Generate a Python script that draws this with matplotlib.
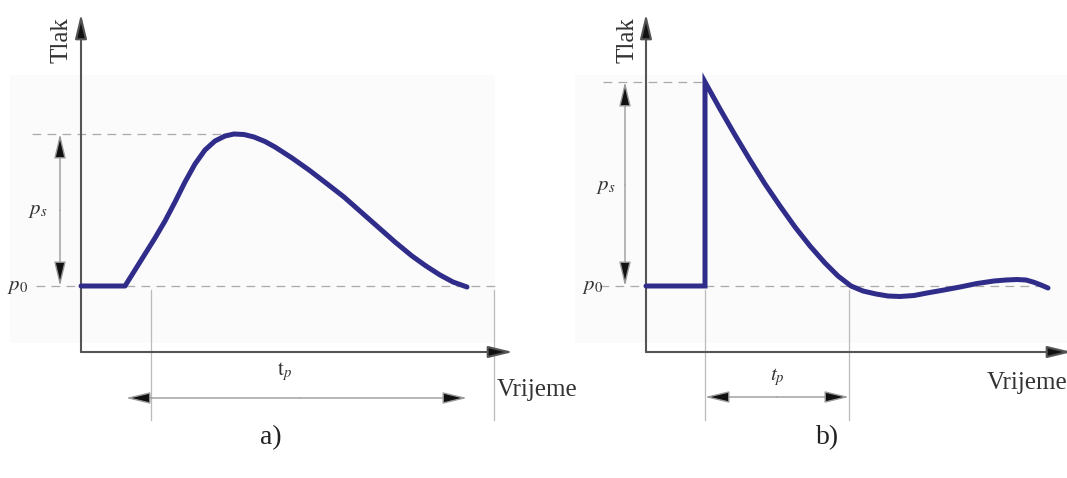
import matplotlib
matplotlib.use('Agg')
import matplotlib.pyplot as plt
from matplotlib.patches import Rectangle

plt.rcParams['font.family'] = ['Liberation Serif', 'DejaVu Serif']
plt.rcParams['mathtext.fontset'] = 'stix'

# pressure curve a) (canvas pixels, y grows downward)
curve_a_x = [81, 125, 140, 155, 165, 175, 185, 195, 205, 215, 225, 234, 244, 254,
             265, 275, 292, 309, 326, 344, 361, 378, 395, 412, 426, 440, 453, 467]
curve_a_y = [286, 286, 262, 238, 221, 202, 182, 164, 150, 141, 136, 134, 134.5, 137,
             141.5, 147, 158, 170, 183, 197, 212, 227, 242, 256, 266, 275, 282, 287]

# pressure curve b)
curve_b_x = [646, 705, 705, 720, 735, 750, 765, 780, 795, 810, 825, 838, 851, 863,
             876, 888, 900, 914, 927, 944, 960, 977, 994, 1006, 1017, 1026, 1034, 1041, 1048]
curve_b_y = [286, 286, 82, 109, 135, 160, 184, 206, 227, 246, 263, 276, 286, 291,
             294, 296, 296.5, 295.5, 293, 290, 287, 283.5, 281, 280, 279.5, 280, 282.3, 285, 288]

p0_level = 286
peak_a = 134
peak_b = 82

fig = plt.figure(figsize=(10.67, 4.78), dpi=100)
ax = fig.add_axes([0, 0, 1, 1])
ax.set_xlim(0, 1067)
ax.set_ylim(478, 0)
ax.axis('off')

# faint background panels
ax.add_patch(Rectangle((10, 75), 485, 268, color='#fbfbfb', zorder=0, lw=0))
ax.add_patch(Rectangle((575, 75), 492, 268, color='#fbfbfb', zorder=0, lw=0))

axis_col = '#555555'
thin_col = '#9a9a9a'
dash_col = '#aaaaaa'
txt_col = '#333333'
curve_col = '#302c8a'


def arrow(x0, y0, x1, y1, lw=1.0, col='#888888'):
    ax.annotate('', xy=(x1, y1), xytext=(x0, y0),
                arrowprops=dict(arrowstyle='-|>,head_length=1.5,head_width=0.36',
                                mutation_scale=10, lw=lw, color=col,
                                fc='#111111', ec=col, shrinkA=0, shrinkB=0),
                annotation_clip=False)


def dashed(x0, x1, y):
    ax.plot([x0, x1], [y, y], color=dash_col, lw=0.9, dashes=(7, 5))


def vline(x, y0, y1):
    ax.plot([x, x], [y0, y1], color='#bbbbbb', lw=0.9)


# ---------- panel a ----------
arrow(81, 352, 81, 14, lw=1.5, col=axis_col)
arrow(81, 352, 513, 352, lw=1.5, col=axis_col)
dashed(32, 232, peak_a)
dashed(36, 495, p0_level)
arrow(60, 210, 60, peak_a, col=thin_col)
arrow(60, 210, 60, p0_level, col=thin_col)
vline(151, 290, 420)
vline(494, 290, 420)
arrow(300, 398, 126, 398, col=thin_col)
arrow(300, 398, 467, 398, col=thin_col)
ax.plot(curve_a_x, curve_a_y, color=curve_col, lw=3.6, solid_capstyle='round',
        solid_joinstyle='round', zorder=5)

ax.text(62, 40, 'Tlak', rotation=90, ha='center', va='center', fontsize=18, color=txt_col)
ax.text(38, 210, '$p_s$', ha='center', va='center', fontsize=15, color=txt_col)
ax.text(18, 287, '$p_0$', ha='center', va='center', fontsize=15, color=txt_col)
ax.text(285, 372, r'$\mathrm{t}_p$', ha='center', va='center', fontsize=15, color=txt_col)
ax.text(497, 390, 'Vrijeme', ha='left', va='center', fontsize=18, color=txt_col)
ax.text(271, 438, 'a)', ha='center', va='center', fontsize=20, color='#222222')

# ---------- panel b ----------
arrow(646, 352, 646, 14, lw=1.5, col=axis_col)
arrow(646, 352, 1072, 352, lw=1.5, col=axis_col)
dashed(603, 705, peak_b)
dashed(600, 1050, p0_level)
arrow(625, 185, 625, peak_b, col=thin_col)
arrow(625, 185, 625, p0_level, col=thin_col)
vline(705, 290, 420)
vline(849, 290, 420)
arrow(777, 397, 705, 397, col=thin_col)
arrow(777, 397, 849, 397, col=thin_col)
ax.plot(curve_b_x, curve_b_y, color=curve_col, lw=3.6, solid_capstyle='round',
        solid_joinstyle='miter', zorder=5)

ax.text(628, 40, 'Tlak', rotation=90, ha='center', va='center', fontsize=18, color=txt_col)
ax.text(606, 187, '$p_s$', ha='center', va='center', fontsize=15, color=txt_col)
ax.text(593, 287, '$p_0$', ha='center', va='center', fontsize=15, color=txt_col)
ax.text(777, 377, '$t_p$', ha='center', va='center', fontsize=15, color=txt_col)
ax.text(1067, 383, 'Vrijeme', ha='right', va='center', fontsize=18, color=txt_col)
ax.text(828, 438, 'b)', ha='center', va='center', fontsize=20, color='#222222')

fig.savefig('out.png', dpi=100, facecolor='white')
